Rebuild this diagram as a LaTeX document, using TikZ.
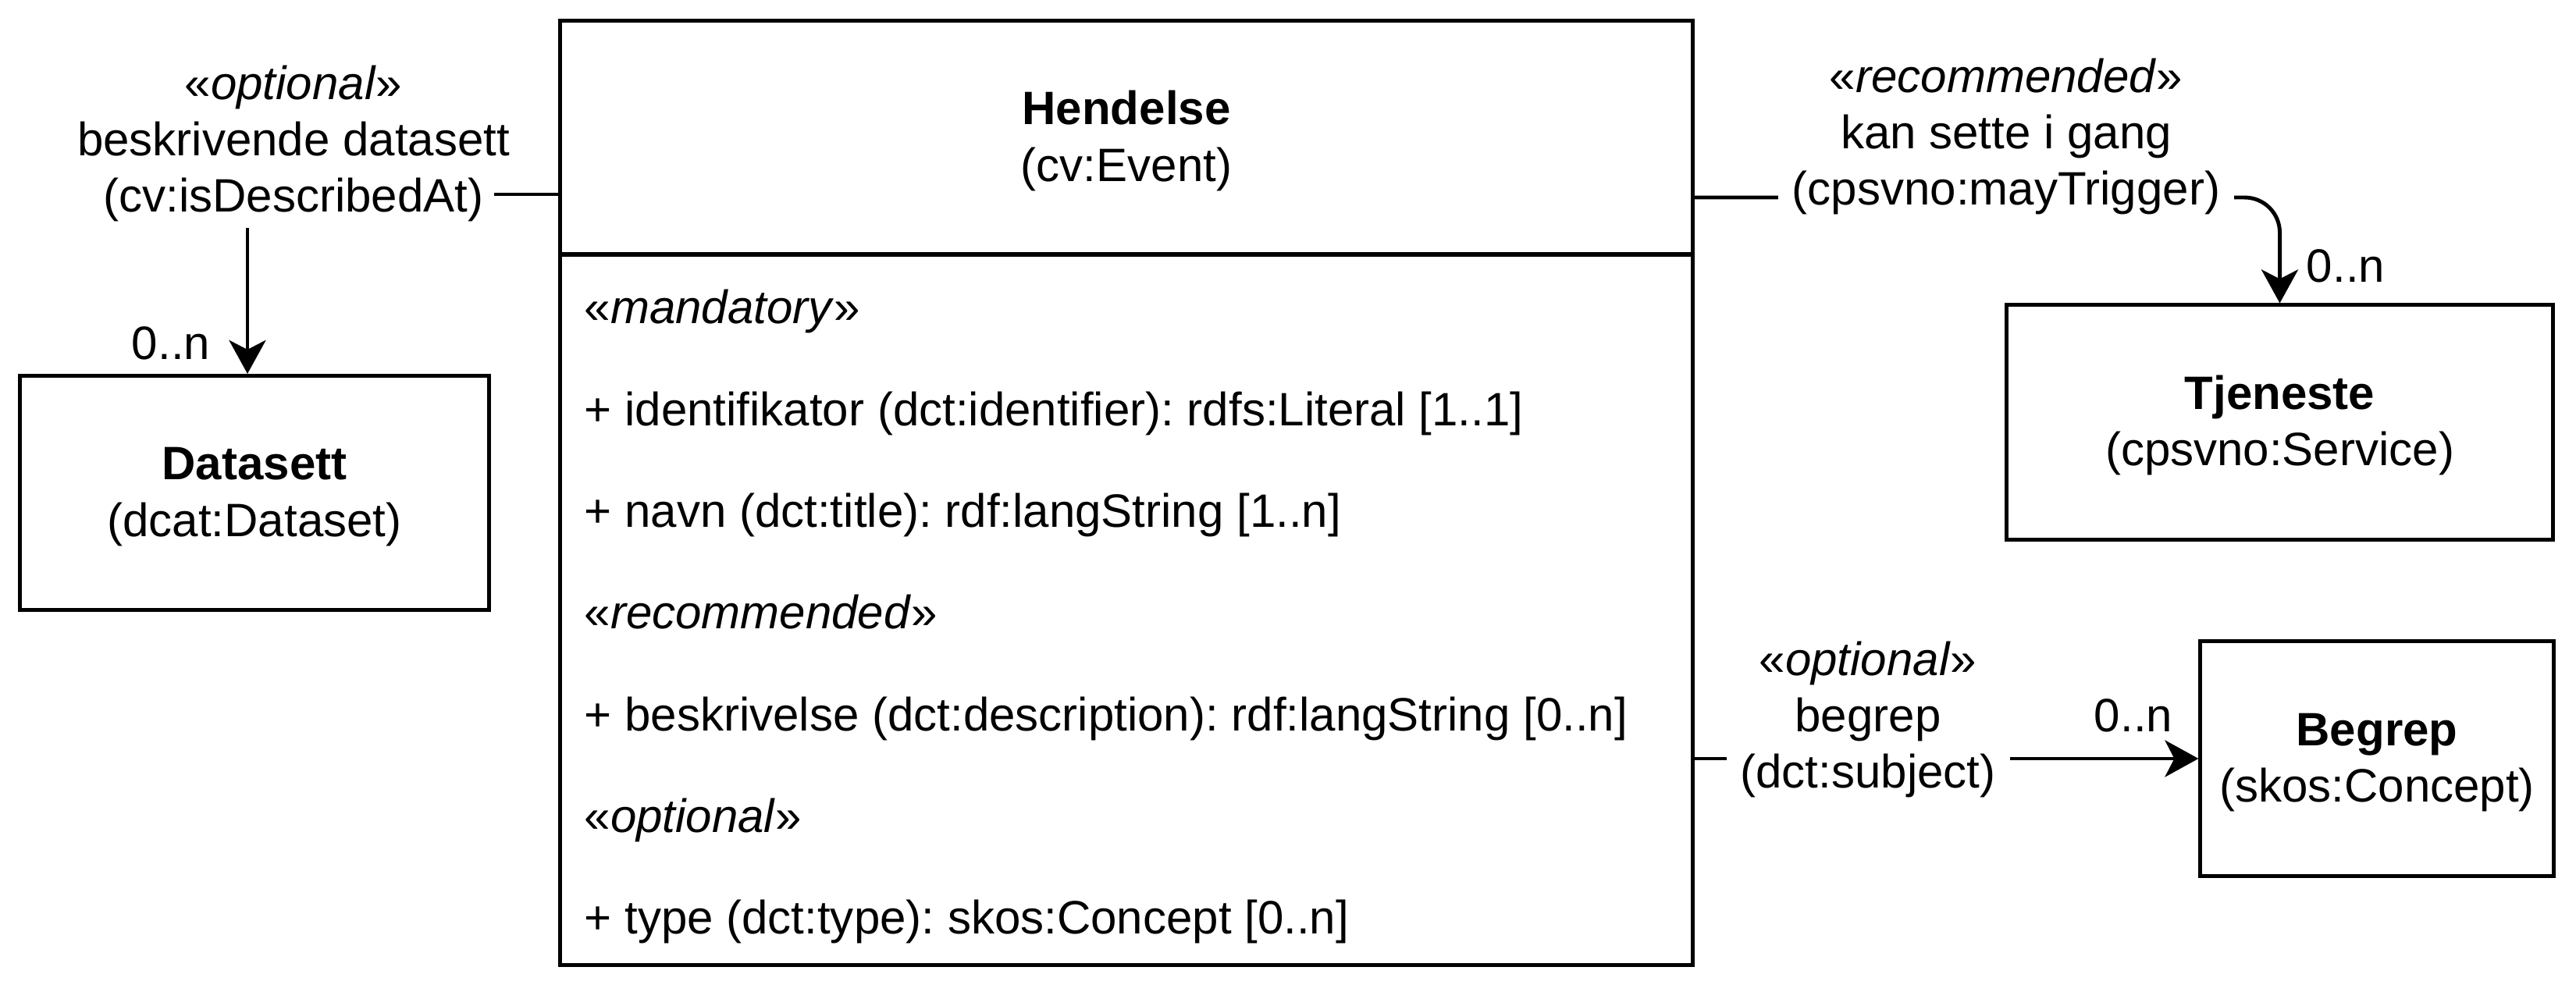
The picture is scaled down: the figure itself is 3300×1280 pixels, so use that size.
\documentclass[tikz,border=0pt]{standalone}
\usepackage{fontspec}
\setmainfont{Liberation Sans}
\usetikzlibrary{arrows.meta}
\frenchspacing
\newcommand{\lstrut}{\rule[-0.16cm]{0pt}{0.71cm}}
\tikzset{
	cls/.style={draw,line width=1.4pt,minimum height=3cm,align=center},
	lbl/.style={fill=white,align=center,inner xsep=0.18cm,inner ysep=0.04cm},
	assoc/.style={line width=1.4pt,-{Stealth[length=0.43cm,width=0.47cm,inset=0.12cm]}},
}
\begin{document}
\begin{tikzpicture}[x=0.01cm,y=-0.01cm,font=\fontsize{17.07pt}{20.49pt}\selectfont]
	\useasboundingbox (0,0) rectangle (3300,1280);
	\node[cls,minimum width=14.5cm](hendelse) at (1443,176.5){\lstrut\textbf{Hendelse}\\\lstrut(cv:Event)};
	\node[cls,minimum width=14.5cm,minimum height=9.1cm](attr) at (1443,781){};
	\node[cls,minimum width=6cm](datasett) at (326,631.5){\lstrut\textbf{Datasett}\\\lstrut(dcat:Dataset)};
	\node[cls,minimum width=7cm](tjeneste) at (2920.5,541){\lstrut\textbf{Tjeneste}\\\lstrut(cpsvno:Service)};
	\node[cls,minimum width=4.52cm](begrep) at (3045,972){\lstrut\textbf{Begrep}\\\lstrut(skos:Concept)};
	\foreach \t [count=\i] in {{«\textit{mandatory}»},{+ identifikator (dct:identifier): rdfs:Literal [1..1]},
		{+ navn (dct:title): rdf:langString [1..n]},{«\textit{recommended}»},
		{+ beskrivelse (dct:description): rdf:langString [0..n]},{«\textit{optional}»},
		{+ type (dct:type): skos:Concept [0..n]}}
		\node[anchor=base west,inner sep=0](attr-\i) at (748,{415+130.3*(\i-1)}){\t};
	\node[lbl](dsLbl) at (376,180){\lstrut«\textit{optional}»\\\lstrut beskrivende datasett\\\lstrut(cv:isDescribedAt)};
	\draw[line width=1.4pt]([yshift=-0.725cm]hendelse.west)--++(-82,0);
	\draw[assoc]([xshift=-0.09cm]datasett.north|-dsLbl.south)--([xshift=-0.09cm]datasett.north);
	\draw[assoc,rounded corners=0.45cm]([yshift=-0.765cm]hendelse.east)-|(tjeneste.north);
	\draw[assoc](attr.east|-begrep.west)--(begrep.west);
	\node[lbl](tjLbl) at (2570,171){\lstrut«\textit{recommended}»\\\lstrut kan sette i gang\\\lstrut(cpsvno:mayTrigger)};
	\node[lbl](bgLbl) at (2393,918){\lstrut«\textit{optional}»\\\lstrut begrep\\\lstrut(dct:subject)};
	\node(dsMult) at (219,440){0..n};
	\node(tjMult) at (3005,341){0..n};
	\node(bgMult) at (2733,917){0..n};
\end{tikzpicture}
\end{document}
